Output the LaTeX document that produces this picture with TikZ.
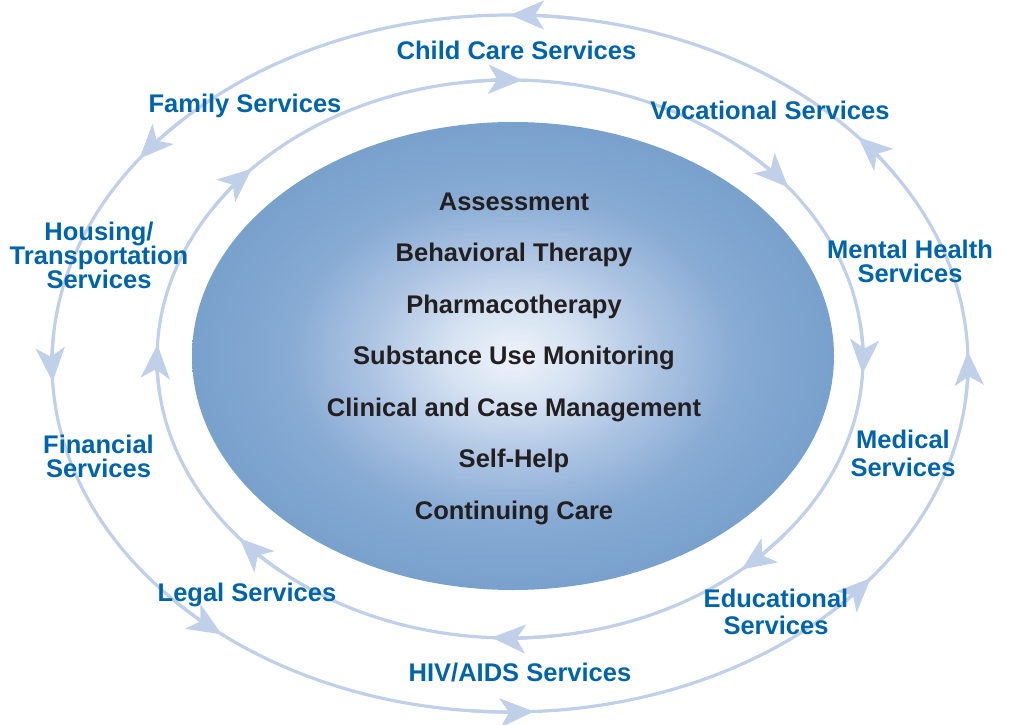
\documentclass[tikz,border=0pt]{standalone}
\usepackage{fontspec}
\setmainfont{Liberation Sans}
\usetikzlibrary{arrows.meta,calc}
\definecolor{ringblue}{RGB}{192,208,233}
\definecolor{labblue}{RGB}{0,100,170}
\definecolor{darktext}{RGB}{35,31,32}
\pgfdeclareradialshading{coreshade}{\pgfpoint{0bp}{0bp}}{rgb(0bp)=(0.93,0.95,0.98); rgb(5bp)=(0.84,0.89,0.95); rgb(11bp)=(0.68,0.77,0.89); rgb(17.5bp)=(0.53,0.67,0.83); rgb(25bp)=(0.47,0.63,0.80); rgb(50bp)=(0.47,0.63,0.80)}
\begin{document}
\begin{tikzpicture}[x=1pt,y=-1pt,
  ring/.style={draw=ringblue, line width=3.2pt},
  ringtip/.style={-{Stealth[length=34pt 0 0,width=29pt 0 0,inset=9pt 0]}},
  lab/.style={text=labblue, font=\fontsize{25.5}{24}\selectfont\bfseries, align=center, inner sep=0pt},
  oneline/.style={text height=18.3pt, text depth=0pt},
  core/.style={text=darktext, font=\fontsize{25.5}{24}\selectfont\bfseries, inner sep=0pt, text height=18.3pt, text depth=0pt}]
\useasboundingbox (0,0) rectangle (1010,725);
\coordinate (oc) at (510,363.5);
\coordinate (ic) at (510,359);
\coordinate (cc) at (513,356);
% central shaded ellipse
\shade[shading=coreshade] (cc) ellipse[x radius=321, y radius=234];
% rings
\draw[ring] (oc) ellipse[x radius=458, y radius=348.5];
\draw[ring] (ic) ellipse[x radius=353, y radius=279];
% inner ring arrows (clockwise)
\foreach \t in {3,49,93,140,183,223,272,322}
  \draw[ring, ringtip] ($(ic)+({353*cos(\t-10)},{279*sin(\t-10)})$) arc[start angle=\t-10, end angle=\t, x radius=353, y radius=279];
% outer ring arrows (counter-clockwise)
\foreach \t in {270,216,177,129,87,38,358,319.5}
  \draw[ring, ringtip] ($(oc)+({458*cos(\t+8)},{348.5*sin(\t+8)})$) arc[start angle=\t+8, end angle=\t, x radius=458, y radius=348.5];
% outer labels
\node[lab, oneline] (child) at (516.5,50) {Child Care Services};
\node[lab, oneline] (family) at (245,103) {Family Services};
\node[lab, oneline] (voc) at (770,110) {Vocational Services};
\node[lab] (housing) at (99,255) {Housing/\\Transportation\\Services};
\node[lab] (mental) at (910,261) {Mental Health\\Services};
\node[lab] (financial) at (98.5,456) {Financial\\Services};
\node[lab] (medical) at (903,453) {Medical\\[4pt]Services};
\node[lab, oneline] (legal) at (247,592) {Legal Services};
\node[lab] (edu) at (776,611.5) {Educational\\[3pt]Services};
\node[lab, oneline] (hiv) at (520,672) {HIV/AIDS Services};
% core labels
\node[core] (c1) at (514,201) {Assessment};
\node[core] (c2) at (514,252.5) {Behavioral Therapy};
\node[core] (c3) at (514,304) {Pharmacotherapy};
\node[core] (c4) at (514,355.5) {Substance Use Monitoring};
\node[core] (c5) at (514,407) {Clinical and Case Management};
\node[core] (c6) at (514,458.5) {Self-Help};
\node[core] (c7) at (514,510) {Continuing Care};
\end{tikzpicture}
\end{document}
